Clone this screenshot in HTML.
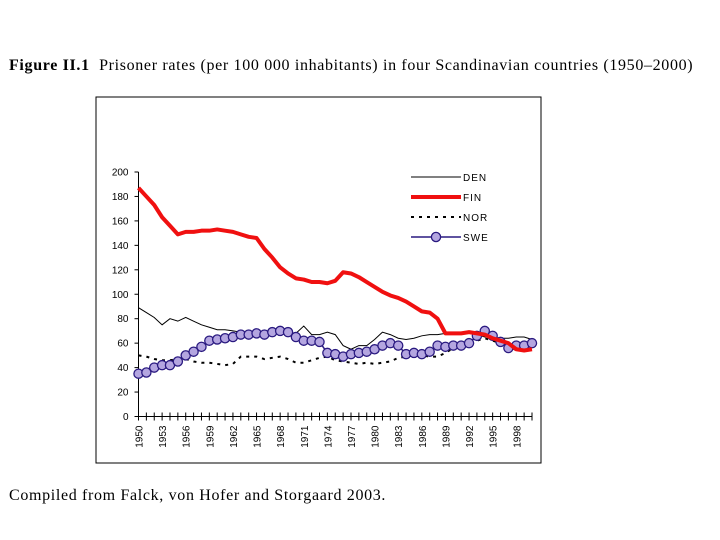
<!DOCTYPE html>
<html><head><meta charset="utf-8"><style>
body{margin:0;background:#fff;width:720px;height:540px;overflow:hidden;position:relative}
.t{position:absolute;font-family:"Liberation Serif",serif;color:#000;white-space:nowrap;font-size:16px;letter-spacing:0.66px}
</style></head><body>
<div class="t" style="left:9px;top:57px"><b>Figure II.1</b>&nbsp; Prisoner rates (per 100 000 inhabitants) in four Scandinavian countries (1950–2000)</div>
<div class="t" style="left:9px;top:487px">Compiled from Falck, von Hofer and Storgaard 2003.</div>
<svg id="chart" width="720" height="540" style="position:absolute;left:0;top:0"></svg>
<script>
const years=[];for(let y=1950;y<=2000;y++)years.push(y);
const yTicks=[0,20,40,60,80,100,120,140,160,180,200];
const xLabels=[1950,1953,1956,1959,1962,1965,1968,1971,1974,1977,1980,1983,1986,1989,1992,1995,1998];
const den=[89,85,81,75,80,78,81,78,75,73,71,71,70,69,68,68,67,68,69,68,68,74,67,67,69,67,58,55,58,58,63,69,67,64,63,64,66,67,67,68,68,68,68,67,65,65,64,64,65,65,63];
const fin=[187,180,173,163,156,149,151,151,152,152,153,152,151,149,147,146,137,130,122,117,113,112,110,110,109,111,118,117,114,110,106,102,99,97,94,90,86,85,80,68,68,68,69,68,67,64,62,60,55,54,55];
const nor=[50,49,47,46,46,47,47,45,44,44,43,42,43,49,49,49,47,48,49,47,44,44,46,48,49,46,45,44,43,44,43,44,45,48,49,50,50,49,49,52,56,58,60,62,64,62,60,58,57,58,58];
const swe=[35,36,40,42,42,45,50,53,57,62,63,64,65,67,67,68,67,69,70,69,65,62,62,61,52,51,49,51,52,53,55,58,60,58,51,52,51,53,58,57,58,58,60,66,70,66,61,56,58,58,60];
const NS="http://www.w3.org/2000/svg",svg=document.getElementById('chart');
const X=y=>138.5+(y-1950)*(532-138.5)/50, Y=v=>416.5-v*(416.5-172)/200;
function mk(t,a,p){const e=document.createElementNS(NS,t);for(const k in a)e.setAttribute(k,a[k]);(p||svg).appendChild(e);return e;}
const frame=mk('rect',{x:96,y:97,width:445,height:366,fill:'none',stroke:'#000','stroke-width':1});


const ax=mk('path',{d:`M${X(1950)},${Y(200)}V${Y(0)}H${X(2000)}`,stroke:'#000',fill:'none'});


yTicks.forEach(v=>{mk('line',{x1:X(1950)-4,x2:X(1950),y1:Y(v),y2:Y(v),stroke:'#000'});
const t=mk('text',{x:X(1950)-10,y:Y(v)+3.5,'font-size':10,'font-family':'Liberation Sans, sans-serif','text-anchor':'end'});t.textContent=v;

});
years.forEach(y=>mk('line',{x1:X(y),x2:X(y),y1:Y(0)-4,y2:Y(0)+4,stroke:'#000'}));
xLabels.forEach(y=>{const t=mk('text',{transform:`translate(${X(y)+4},${Y(0)+9}) rotate(-90)`,'font-size':10,'font-family':'Liberation Sans, sans-serif','text-anchor':'end'});t.textContent=y;

});
const pts=a=>a.map((v,i)=>`${X(years[i])},${Y(v)}`).join(' ');
let l=mk('polyline',{points:pts(nor),fill:'none',stroke:'#000','stroke-width':2,'stroke-dasharray':'3,5'});


l=mk('polyline',{points:pts(den),fill:'none',stroke:'#000','stroke-width':1});


l=mk('polyline',{points:pts(swe),fill:'none',stroke:'#2a1a80','stroke-width':1.5});


swe.forEach((v,i)=>{const c=mk('circle',{cx:X(years[i]),cy:Y(v),r:4.6,fill:'#b4a6e0',stroke:'#2a1a80','stroke-width':1.3});

});
l=mk('polyline',{points:pts(fin),fill:'none',stroke:'#f01010','stroke-width':4,'stroke-linejoin':'round'});


const leg=[['DEN',{stroke:'#000','stroke-width':1}],['FIN',{stroke:'#f01010','stroke-width':4}],['NOR',{stroke:'#000','stroke-width':2,'stroke-dasharray':'3,5'}],['SWE',{stroke:'#2a1a80','stroke-width':1.5}]];
leg.forEach((d,i)=>{const yy=177+i*20;const g=mk('g',{});


mk('line',Object.assign({x1:411,x2:461,y1:yy,y2:yy},d[1]),g);
if(d[0]==='SWE')mk('circle',{cx:436,cy:yy,r:4.6,fill:'#b4a6e0',stroke:'#2a1a80','stroke-width':1.3},g);
const t=mk('text',{x:463,y:yy+4,'font-size':10,'font-family':'Liberation Sans, sans-serif','letter-spacing':'1'},g);t.textContent=d[0];});
</script>
</body></html>
